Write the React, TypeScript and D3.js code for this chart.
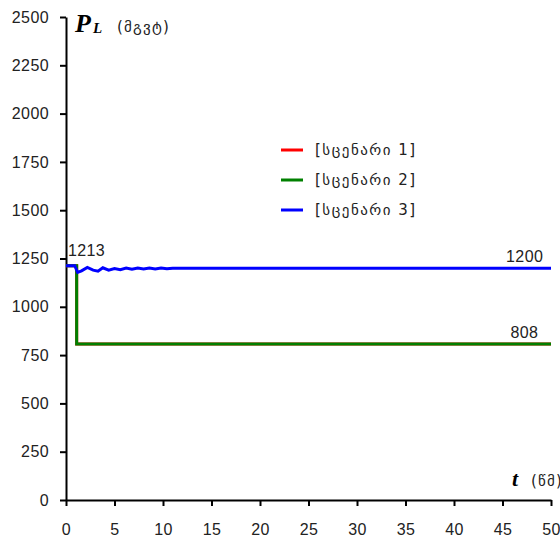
import React, { useRef, useEffect } from 'react';
import * as d3 from 'd3';

// time (s) and load power (MW) for each scenario
const timeS1 = [0, 1.1, 1.1, 50];
const powerS1 = [1213, 1213, 808, 808];

const timeS2 = [0, 1.1, 1.1, 50];
const powerS2 = [1213, 1213, 808, 808];

const timeS3 = [0, 0.9, 1.2, 1.6, 2.2, 2.8, 3.3, 3.8, 4.4, 5.0, 5.6, 6.2, 6.8, 7.4, 8.0, 8.6, 9.2, 9.8, 10.4, 11.0, 50];
const powerS3 = [1213, 1213, 1178, 1186, 1204, 1190, 1184, 1202, 1190, 1198, 1192, 1201, 1194, 1201, 1196, 1201, 1196, 1201, 1197, 1200, 1200];

const yTicks = [0, 250, 500, 750, 1000, 1250, 1500, 1750, 2000, 2250, 2500];
const xTicks = [0, 5, 10, 15, 20, 25, 30, 35, 40, 45, 50];

const seriesNames = ['[სცენარი 1]', '[სცენარი 2]', '[სცენარი 3]'];
const seriesColors = ['#ff0000', '#008000', '#0000ff'];

const App = () => {
  const svgRef = useRef<SVGSVGElement>(null);

  useEffect(() => {
    if (!svgRef.current) return;
    const svg = d3.select(svgRef.current);
    svg.selectAll('*').remove();

    const x = d3.scaleLinear().domain([0, 50]).range([66, 551]);
    const y = d3.scaleLinear().domain([0, 2500]).range([500, 17]);
    const numFont = '"Liberation Sans", Arial, sans-serif';
    const geoFont = '"DejaVu Sans", sans-serif';
    const serif = '"Liberation Serif", "Times New Roman", serif';

    // Y axis
    const yAxis = svg.append('g')
      .attr('transform', 'translate(66,0)')
      .call(d3.axisLeft(y).tickValues(yTicks).tickFormat(d3.format('d')).tickSize(6).tickPadding(11).tickSizeOuter(0));
    yAxis.select('.domain').attr('stroke', '#000').attr('stroke-width', 2);
    yAxis.selectAll('line').attr('stroke', '#000').attr('stroke-width', 2);
    yAxis.selectAll('text')
      .attr('font-family', numFont)
      .attr('font-size', 16)
      .attr('letter-spacing', 0.4)
      .attr('fill', '#222');

    // X axis
    const xAxis = svg.append('g')
      .attr('transform', 'translate(0,500)')
      .call(d3.axisBottom(x).tickValues(xTicks).tickFormat(d3.format('d')).tickSize(6).tickPadding(18).tickSizeOuter(0));
    xAxis.select('.domain').attr('stroke', '#000').attr('stroke-width', 2);
    xAxis.selectAll('line').attr('stroke', '#000').attr('stroke-width', 2);
    xAxis.selectAll('text')
      .attr('font-family', numFont)
      .attr('font-size', 16)
      .attr('letter-spacing', 0.4)
      .attr('fill', '#222');

    const line = d3.line<[number, number]>()
      .x(d => x(d[0]))
      .y(d => y(d[1]));

    const series = [
      d3.zip(timeS1, powerS1),
      d3.zip(timeS2, powerS2),
      d3.zip(timeS3, powerS3),
    ];

    series.forEach((pts, i) => {
      svg.append('path')
        .datum(pts as [number, number][])
        .attr('fill', 'none')
        .attr('stroke', seriesColors[i])
        .attr('stroke-width', 3)
        .attr('d', line);
    });

    // value annotations
    const note = (t: number, v: number, label: string, anchor: string, dy: number) => {
      svg.append('text')
        .attr('x', x(t))
        .attr('y', y(v) + dy)
        .attr('text-anchor', anchor)
        .attr('font-family', numFont)
        .attr('font-size', 16)
        .attr('letter-spacing', 0.4)
        .attr('fill', '#222')
        .text(label);
    };
    note(timeS3[0] + 0.2, powerS3[0], String(powerS3[0]), 'start', -10);
    note(49.2, powerS3[powerS3.length - 1], String(powerS3[powerS3.length - 1]), 'end', -6);
    note(48.7, powerS2[powerS2.length - 1], String(powerS2[powerS2.length - 1]), 'end', -6);

    // legend
    seriesNames.forEach((name, i) => {
      const ly = 150 + i * 30;
      svg.append('line')
        .attr('x1', 281).attr('x2', 303)
        .attr('y1', ly).attr('y2', ly)
        .attr('stroke', seriesColors[i])
        .attr('stroke-width', 3);
      svg.append('text')
        .attr('x', 315)
        .attr('y', ly + 5)
        .attr('font-family', geoFont)
        .attr('font-size', 15)
        .attr('letter-spacing', 1.5)
        .attr('fill', '#222')
        .text(name);
    });

    // y axis title
    const yt = svg.append('text')
      .attr('x', 75)
      .attr('y', 32)
      .attr('font-family', serif)
      .attr('font-weight', 'bold')
      .attr('font-style', 'italic')
      .attr('font-size', 26)
      .attr('fill', '#000');
    yt.append('tspan').text('P');
    yt.append('tspan').attr('font-size', 15).attr('dx', 2).attr('dy', 1).text('L');
    svg.append('text')
      .attr('x', 117)
      .attr('y', 32)
      .attr('font-family', geoFont)
      .attr('font-size', 15)
      .attr('letter-spacing', 1.2)
      .attr('fill', '#222')
      .text('(მგვტ)');

    // x axis title (unit is clipped by the right edge, as in the source)
    svg.append('text')
      .attr('x', 512)
      .attr('y', 486)
      .attr('font-family', serif)
      .attr('font-weight', 'bold')
      .attr('font-style', 'italic')
      .attr('font-size', 22)
      .attr('fill', '#000')
      .text('t');
    svg.append('text')
      .attr('x', 531)
      .attr('y', 486)
      .attr('font-family', geoFont)
      .attr('font-size', 15)
      .attr('letter-spacing', 1.2)
      .attr('fill', '#222')
      .text('(წმ)');
  }, []);

  return (
    <svg
      ref={svgRef}
      width={560}
      height={545}
      style={{ position: 'absolute', left: 0, top: 0, background: '#fff' }}
    />
  );
};

export default App;
